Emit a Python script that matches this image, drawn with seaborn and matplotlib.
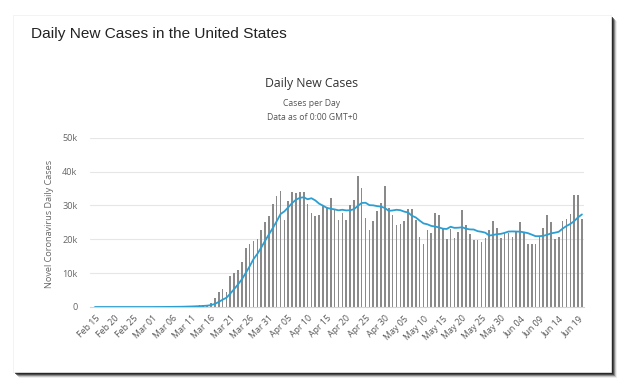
import numpy as np
import pandas as pd
import matplotlib
matplotlib.use("Agg")
import matplotlib.pyplot as plt
from matplotlib.patches import Rectangle
import seaborn as sns

# daily new cases (thousands), one value per day from Feb 15 to Jun 20
cases_k = [0] * 15 + [
    0.02, 0.03, 0.03, 0.04, 0.07, 0.08, 0.12, 0.12, 0.18, 0.28, 0.30, 0.38, 0.45,
    0.5, 0.7, 1.3, 2.7, 4.3, 5.2, 4.4, 9.1, 10.0, 11.0,
    13.3, 17.4, 18.7, 19.4, 20.0, 22.9, 25.1, 26.8, 30.3, 32.7,
    34.4, 25.6, 31.3, 33.9, 33.8, 34.1, 33.9, 30.3, 27.7, 26.8,
    27.1, 29.7, 29.5, 32.1, 29.0, 25.8, 27.9, 25.8, 30.0, 31.7,
    38.8, 35.2, 26.3, 22.9, 25.4, 28.4, 30.7, 35.9, 29.3, 27.1,
    24.3, 24.6, 25.4, 29.0, 29.0, 25.8, 20.6, 18.5, 22.8, 22.0,
    27.7, 27.3, 23.1, 20.0, 23.1, 20.5, 22.3, 28.7, 24.3, 21.6,
    19.8, 19.7, 19.2, 20.4, 22.8, 25.4, 23.4, 20.4, 21.8, 21.9,
    20.6, 22.6, 25.1, 22.1, 18.7, 18.7, 18.7, 20.6, 23.3, 27.3,
    25.1, 20.0, 20.6, 25.3, 26.0, 27.5, 33.2, 33.0, 25.9,
]

# 7-day moving average line (thousands)
avg_k = [0] * 15 + [
    0.0, 0.01, 0.01, 0.02, 0.03, 0.04, 0.06, 0.07, 0.09, 0.13, 0.16, 0.21, 0.26,
    0.32, 0.40, 0.56, 0.90, 1.48, 2.16, 2.73, 3.96, 5.29, 6.67,
    8.19, 10.06, 11.99, 14.13, 15.69, 17.53, 19.54, 21.47, 23.31, 25.31,
    27.46, 28.26, 29.46, 30.71, 31.71, 32.26, 32.43, 31.84, 32.14, 31.5,
    30.53, 29.94, 29.29, 29.03, 28.84, 28.57, 28.73, 28.54, 28.59, 28.9,
    29.86, 30.74, 30.81, 30.1, 30.04, 29.81, 29.67, 29.26, 28.41, 28.53,
    28.73, 28.61, 28.19, 27.94, 26.96, 26.46, 25.53, 24.7, 24.44, 23.96,
    23.77, 23.53, 23.14, 23.06, 23.71, 23.39, 23.43, 23.57, 23.14, 22.93,
    22.9, 22.41, 22.23, 21.96, 21.11, 21.27, 21.53, 21.61, 21.91, 22.3,
    22.33, 22.3, 22.26, 22.07, 21.83, 21.39, 20.93, 20.93, 21.03, 21.34,
    21.77, 21.96, 22.23, 23.17, 23.94, 24.54, 25.39, 26.51, 27.36,
]

tick_labels = ["Feb 15", "Feb 20", "Feb 25", "Mar 01", "Mar 06", "Mar 11",
               "Mar 16", "Mar 21", "Mar 26", "Mar 31", "Apr 05", "Apr 10",
               "Apr 15", "Apr 20", "Apr 25", "Apr 30", "May 05", "May 10",
               "May 15", "May 20", "May 25", "May 30", "Jun 04", "Jun 09",
               "Jun 14", "Jun 19"]
y_ticks = [0, 10, 20, 30, 40, 50]
y_tick_labels = ["0", "10k", "20k", "30k", "40k", "50k"]

df = pd.DataFrame({
    "day": np.arange(len(cases_k)),
    "cases": cases_k,
    "avg": avg_k,
})

W, H = 630, 390
sns.set_style("white")
plt.rcParams["font.family"] = ["Open Sans", "DejaVu Sans"]


def fx(x):
    return x / W


def fy(y):
    return 1 - y / H


fig = plt.figure(figsize=(W / 100, H / 100), dpi=100)
fig.patch.set_facecolor("white")

# card with a dark shadow on the right and bottom
for off, a in [(6, 0.08), (5, 0.18), (4, 0.35), (3, 0.55), (2, 0.7)]:
    fig.patches.append(Rectangle((fx(13 + off), fy(372 + off)), fx(598), (372 - 15) / H,
                                 transform=fig.transFigure, facecolor="#1a1a1a",
                                 alpha=a, edgecolor="none", zorder=0))
fig.patches.append(Rectangle((fx(13), fy(372)), fx(598), (372 - 15) / H,
                             transform=fig.transFigure, facecolor="white",
                             edgecolor="#eeeeee", linewidth=0.5, zorder=1))

fig.text(fx(31), fy(34), "Daily New Cases in the United States",
         family=["Liberation Sans", "DejaVu Sans"], fontsize=11.1,
         color="#222222", va="center", ha="left")
fig.text(fx(312), fy(83), "Daily New Cases", fontsize=8.8, color="#333333",
         ha="center", va="center")
fig.text(fx(312), fy(104), "Cases per Day", fontsize=6.2, color="#555555",
         ha="center", va="center")
fig.text(fx(312), fy(117), "Data as of 0:00 GMT+0", fontsize=6.2, color="#555555",
         ha="center", va="center")
fig.text(fx(50), fy(224), "Novel Coronavirus Daily Cases", fontsize=6.6,
         color="#666666", rotation=90, ha="center", va="center")

ax = fig.add_axes([fx(90), fy(307), fx(583.5 - 90), (307 - 137.8) / H])
ax.set_facecolor("none")
ax.set_zorder(2)

sns.barplot(data=df, x="day", y="cases", native_scale=True, width=0.42,
            color="#8a8a8a", saturation=1, edgecolor="none", ax=ax, zorder=2)
sns.lineplot(data=df, x="day", y="avg", color="#2b9fd3", linewidth=1.3,
             ax=ax, zorder=3)

ax.set_xlim(-1.3, len(cases_k) - 0.6)
ax.set_ylim(0, 50)
ax.set_yticks(y_ticks)
ax.set_yticklabels(y_tick_labels)
ax.set_xticks(np.arange(0, len(cases_k), 5)[:len(tick_labels)])
ax.set_xticklabels(tick_labels, rotation=45, ha="right", rotation_mode="anchor")
ax.tick_params(axis="y", length=0, pad=9, labelsize=6.6, labelcolor="#666666")
ax.tick_params(axis="x", length=0, pad=5, labelsize=6.4, labelcolor="#555555")
ax.set_xlabel("")
ax.set_ylabel("")
for y in y_ticks[1:]:
    ax.axhline(y, color="#e6e6e6", linewidth=0.8, zorder=1)
for side in ["top", "right", "left"]:
    ax.spines[side].set_visible(False)
ax.spines["bottom"].set_color("#ccd6eb")
ax.spines["bottom"].set_linewidth(0.8)

fig.savefig("out.png", dpi=100)
